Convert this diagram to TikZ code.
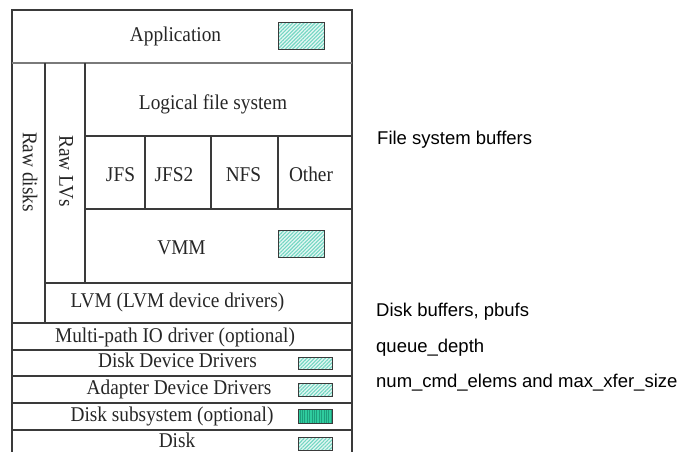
\documentclass[tikz,border=0pt]{standalone}
\usepackage{fontspec}
\setmainfont{Liberation Serif}
\newfontfamily\layerfont[FakeStretch=0.92]{Liberation Serif}
\newfontfamily\notefont{Liberation Sans}
\usetikzlibrary{patterns.meta}
\definecolor{rule}{HTML}{3A3A3A}
\definecolor{softrule}{HTML}{7A7A7A}
\definecolor{hatchbg}{HTML}{E4F7F3}
\definecolor{hatchfg}{HTML}{72D6C2}
\definecolor{solidbg}{HTML}{2FCB9E}
\definecolor{solidfg}{HTML}{1E9E7C}
\tikzset{
  x=1pt, y=-1pt,
  frame/.style={draw=rule, line width=1.1pt},
  layer/.style={font=\layerfont\fontsize{21}{24}\selectfont, text=black!85, inner sep=0pt, anchor=base},
  sidelayer/.style={font=\layerfont\fontsize{21}{24}\selectfont, text=black!85, inner sep=0pt, rotate=-90},
  note/.style={font=\notefont\fontsize{18.5}{21}\selectfont, inner sep=0pt, anchor=base west},
  hatchbox/.style={draw=rule, line width=1pt, inner sep=0pt,
    preaction={fill=hatchbg},
    pattern={Lines[angle=45,distance=2.6pt,line width=1.1pt]}, pattern color=hatchfg},
  solidbox/.style={draw=rule, line width=1pt, inner sep=0pt,
    preaction={fill=solidbg},
    pattern={Lines[angle=90,distance=2.4pt,line width=0.8pt]}, pattern color=solidfg},
}
\begin{document}
\begin{tikzpicture}
\useasboundingbox (0,0) rectangle (681,452);

% outer frame (open at the bottom)
\draw[frame] (12,452) -- (12,10) -- (352,10) -- (352,452);
% rule under the application layer
\draw[draw=softrule, line width=2pt] (12,63) -- (352,63);
% raw disk / raw LV columns
\draw[frame] (45,63) -- (45,323);
\draw[frame] (85,63) -- (85,283);
% file system rows and columns
\draw[frame] (85,136) -- (352,136);
\draw[frame] (85,209) -- (352,209);
\foreach \cx in {145,211,278} \draw[frame] (\cx,136) -- (\cx,209);
\draw[frame] (45,283) -- (352,283);
% lower stack rows
\foreach \ry in {323,350,376,403,430} \draw[frame] (12,\ry) -- (352,\ry);

% layer labels
\node[layer] (app) at (175.5,42) {Application};
\node[layer] (lfs) at (213,110) {Logical file system};
\node[layer] (jfs) at (120.5,181) {JFS};
\node[layer] (jfs2) at (174,181) {JFS2};
\node[layer] (nfs) at (243.5,181) {NFS};
\node[layer] (other) at (311,181) {Other};
\node[layer] (vmm) at (181.5,254) {VMM};
\node[layer] (lvm) at (177.5,307) {LVM (LVM device drivers)};
\node[layer] (mpio) at (175,342) {Multi-path IO driver (optional)};
\node[layer] (ddd) at (177.5,367) {Disk Device Drivers};
\node[layer] (add) at (179,394) {Adapter Device Drivers};
\node[layer] (dsub) at (172,421) {Disk subsystem (optional)};
\node[layer] (disk) at (177,447) {Disk};
\node[sidelayer] (rawdisks) at (30,172) {Raw disks};
\node[sidelayer] (rawlvs) at (66,171) {Raw LVs};

% buffer markers
\node[hatchbox, minimum width=46pt, minimum height=27pt] (appbuf) at (301,36.5) {};
\node[hatchbox, minimum width=46pt, minimum height=27pt] (vmmbuf) at (301,243.5) {};
\node[hatchbox, minimum width=34pt, minimum height=12pt] (dddbuf) at (315,363) {};
\node[hatchbox, minimum width=34pt, minimum height=13pt] (addbuf) at (315,389.5) {};
\node[solidbox, minimum width=34pt, minimum height=14pt] (dsubbuf) at (315,416) {};
\node[hatchbox, minimum width=34pt, minimum height=13pt] (diskbuf) at (315,443.5) {};

% tunables
\node[note] (fsbuf) at (377,144) {File system buffers};
\node[note] (pbufs) at (376,316) {Disk buffers, pbufs};
\node[note] (qdepth) at (376,352) {queue\_depth};
\node[note] (cmdel) at (376,387) {num\_cmd\_elems and max\_xfer\_size};
\end{tikzpicture}
\end{document}
